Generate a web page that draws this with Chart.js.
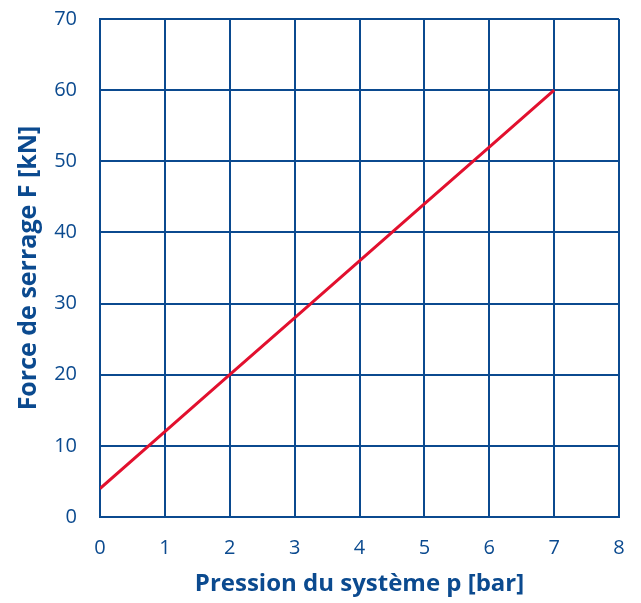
<!DOCTYPE html>
<html>
<head>
<meta charset="utf-8">
<script src="https://cdn.jsdelivr.net/npm/chart.js@4/dist/chart.umd.min.js"></script>
<style>
  html, body { margin: 0; padding: 0; background: #fff; }
  #wrap { width: 641px; height: 603px; }
</style>
</head>
<body>
<div id="wrap"><canvas id="grafico"></canvas></div>
<script>
// valeurs
const pression = [0, 1, 2, 3, 4, 5, 6, 7];
const force = [4, 12, 20, 28, 36, 44, 52, 60];
const ticksX = [0, 1, 2, 3, 4, 5, 6, 7, 8];
const ticksY = [0, 10, 20, 30, 40, 50, 60, 70];

const bleu = '#0b4a8f';
const rouge = '#e2102e';
const police = "'Open Sans', 'Noto Sans', sans-serif";

new Chart(document.getElementById('grafico'), {
    type: 'line',
    data: {
        datasets: [{
            data: pression.map((p, i) => ({ x: p, y: force[i] })),
            borderColor: rouge,
            borderWidth: 3,
            pointRadius: 0,
            tension: 0
        }]
    },
    options: {
        responsive: true,
        maintainAspectRatio: false,
        animation: false,
        layout: { padding: { top: 19, right: 22, left: 0, bottom: 0 } },
        plugins: { legend: { display: false }, tooltip: { enabled: false } },
        scales: {
            x: {
                type: 'linear',
                min: 0, max: 8,
                afterBuildTicks: s => { s.ticks = ticksX.map(v => ({ value: v })); },
                afterFit: s => { s.height = 86; s.paddingLeft = 0; s.paddingRight = 0; },
                grid: { color: bleu, lineWidth: 2, drawTicks: false },
                border: { color: bleu, width: 2 },
                ticks: { color: bleu, padding: 19, font: { family: police, size: 20 } },
                title: {
                    display: true,
                    text: 'Pression du système p [bar]',
                    color: bleu,
                    padding: { top: 0, bottom: 4 },
                    font: { family: police, size: 24, weight: 'bold' }
                }
            },
            y: {
                min: 0, max: 70,
                afterBuildTicks: s => { s.ticks = ticksY.map(v => ({ value: v })); },
                afterFit: s => { s.width = 100; s.paddingTop = 0; s.paddingBottom = 0; },
                grid: { color: bleu, lineWidth: 2, drawTicks: false },
                border: { color: bleu, width: 2 },
                ticks: { color: bleu, padding: 23, font: { family: police, size: 20 } },
                title: {
                    display: true,
                    text: 'Force de serrage F [kN]',
                    color: bleu,
                    padding: { top: 14, bottom: 0 },
                    font: { family: police, size: 25, weight: 'bold' }
                }
            }
        }
    }
});
</script>
</body>
</html>
